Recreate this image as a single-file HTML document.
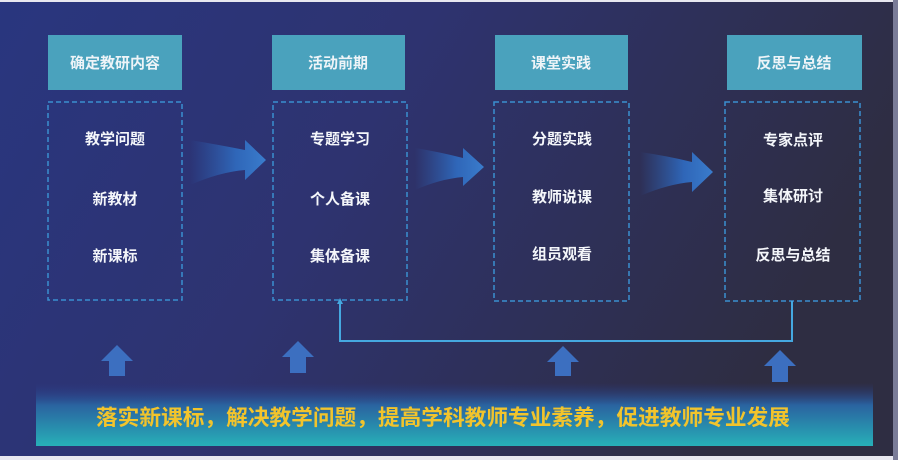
<!DOCTYPE html>
<html><head><meta charset="utf-8"><style>
html,body{margin:0;padding:0;background:#fff}
svg{display:block}
text{font-family:"Liberation Sans","Noto Sans CJK SC",sans-serif;font-weight:bold}
</style></head><body>
<svg width="898" height="460" viewBox="0 0 898 460" xmlns="http://www.w3.org/2000/svg">
<defs>
<linearGradient id="bg" x1="0" y1="0" x2="1" y2="0.3">
<stop offset="0" stop-color="#29367f"/><stop offset="0.45" stop-color="#2e3370"/><stop offset="1" stop-color="#2e2d42"/>
</linearGradient>
<linearGradient id="ban" x1="0" y1="0" x2="0" y2="1">
<stop offset="0" stop-color="#2a3a86" stop-opacity="0"/><stop offset="0.35" stop-color="#2a63a0"/><stop offset="1" stop-color="#27b0b8"/>
</linearGradient>
<linearGradient id="arr" x1="0" y1="0" x2="1" y2="0">
<stop offset="0" stop-color="#2c5fb0" stop-opacity="0"/><stop offset="0.6" stop-color="#2f66b8"/><stop offset="1" stop-color="#3a7ccc"/>
</linearGradient>
</defs>
<rect width="898" height="460" fill="url(#bg)"/>
<rect x="0" y="0" width="898" height="2" fill="#e8e8f0"/>
<rect x="0" y="456" width="898" height="4" fill="#e8e8f0"/>
<rect x="893" y="0" width="5" height="460" fill="#7a7c98"/>

<g fill="#4aa2bd">
<rect x="48" y="35" width="134" height="55"/>
<rect x="272" y="35" width="133" height="55"/>
<rect x="495" y="35" width="133" height="55"/>
<rect x="727" y="35" width="135" height="55"/>
</g>
<g fill="#eef4f8" font-size="15" text-anchor="middle">
<text x="115" y="68">确定教研内容</text>
<text x="338" y="68">活动前期</text>
<text x="561" y="68">课堂实践</text>
<text x="794" y="68">反思与总结</text>
</g>
<g fill="none" stroke="#3a8fd0" stroke-width="1.5" stroke-dasharray="5,3">
<rect x="48" y="102" width="134" height="198"/>
<rect x="273" y="102" width="134" height="198"/>
<rect x="494" y="102" width="135" height="199"/>
<rect x="725" y="102" width="135" height="199"/>
</g>
<g fill="#f4f6fa" font-size="15" text-anchor="middle">
<text x="115" y="144">教学问题</text><text x="115" y="204">新教材</text><text x="115" y="261">新课标</text>
<text x="340" y="144">专题学习</text><text x="340" y="204">个人备课</text><text x="340" y="261">集体备课</text>
<text x="562" y="144">分题实践</text><text x="562" y="202">教师说课</text><text x="562" y="259">组员观看</text>
<text x="793" y="145">专家点评</text><text x="793" y="201">集体研讨</text><text x="793" y="260">反思与总结</text>
</g>
<g fill="url(#arr)">
<path d="M190,140 Q220,145 245,150 L245,140 L266,160 L245,180 L245,170 Q220,172 190,185 Z"/>
<path d="M415,148 Q440,152 463,158 L463,148 L484,167 L463,186 L463,177 Q440,179 415,190 Z"/>
<path d="M640,152 Q668,156 692,162 L692,152 L713,172 L692,192 L692,182 Q668,184 640,196 Z"/>
</g>
<path d="M340,300 V341 H792 V301" fill="none" stroke="#45a8e0" stroke-width="2"/>
<path d="M340,298 l-3,6 h6 z" fill="#45a8e0"/>
<g fill="#3c6fc0">
<path d="M117,345 L133,361 H125 V376 H109 V361 H101 Z"/>
<path d="M298,341 L314,357 H306 V373 H290 V357 H282 Z"/>
<path d="M563,346 L579,362 H571 V376 H555 V362 H547 Z"/>
<path d="M780,350 L796,366 H788 V382 H772 V366 H764 Z"/>
</g>
<rect x="36" y="383" width="837" height="63" fill="url(#ban)"/>
<text x="443" y="425" fill="#f2c42c" font-size="21.5" text-anchor="middle" textLength="694" lengthAdjust="spacingAndGlyphs">落实新课标，解决教学问题，提高学科教师专业素养，促进教师专业发展</text>
</svg>
</body></html>
